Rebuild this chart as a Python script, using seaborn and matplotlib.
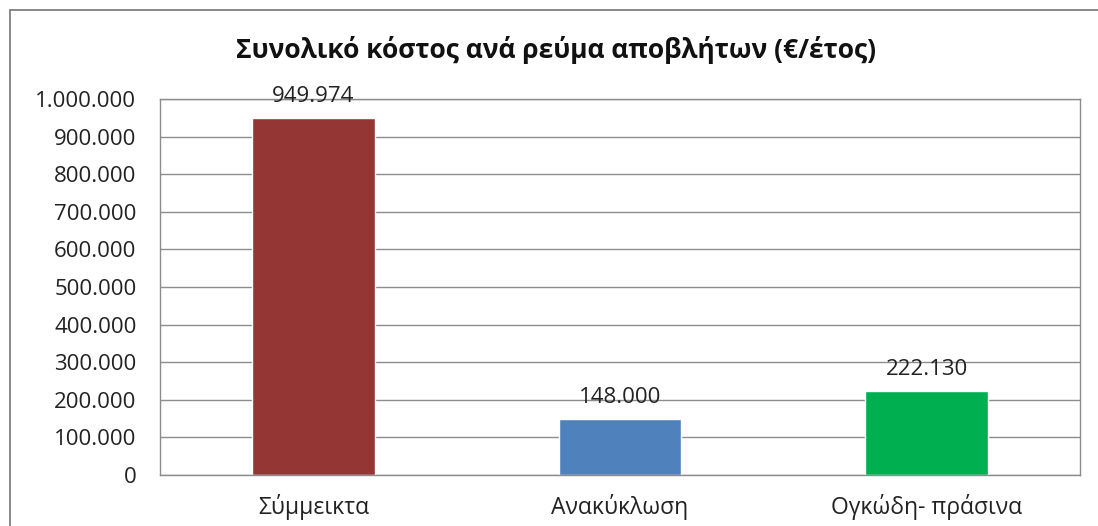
import matplotlib
matplotlib.use("Agg")
import matplotlib.pyplot as plt
import matplotlib.ticker as mticker
from matplotlib.patches import Rectangle
import seaborn as sns
import pandas as pd

categories = ["Σύμμεικτα", "Ανακύκλωση", "Ογκώδη- πράσινα"]
costs = [949974, 148000, 222130]
bar_colors = ["#943634", "#4F81BD", "#00B050"]
title = "Συνολικό κόστος ανά ρεύμα αποβλήτων (€/έτος)"

sns.set_theme(style="white")
plt.rcParams["font.family"] = ["Open Sans", "DejaVu Sans"]

df = pd.DataFrame({"category": categories, "cost": costs})

W, H = 1098, 526
fig = plt.figure(figsize=(W / 100, H / 100), dpi=100)
fig.patch.set_facecolor("white")

# chart-area frame
fig.patches.append(Rectangle((10 / W, -0.2), 1.2, 1.2 - 10 / H,
                             transform=fig.transFigure, fill=False,
                             edgecolor="#808080", linewidth=1.3))

ax = fig.add_axes([160 / W, 1 - 475 / H, (1080 - 160) / W, (475 - 99) / H])
sns.barplot(data=df, x="category", y="cost", hue="category",
            palette=bar_colors, width=0.4, saturation=1, legend=False, ax=ax)

ax.set_xlim(-0.5, 2.5)
ax.set_ylim(0, 1_000_000)
ax.yaxis.set_major_locator(mticker.MultipleLocator(100_000))
ax.yaxis.set_major_formatter(mticker.FuncFormatter(
    lambda v, p: f"{int(v):,}".replace(",", ".")))
ax.grid(axis="y", color="#8C8C8C", linewidth=1.0)
ax.set_axisbelow(True)
for s in ax.spines.values():
    s.set_color("#8C8C8C")
    s.set_linewidth(1.0)
ax.set_xlabel("")
ax.set_ylabel("")

ax.tick_params(axis="y", which="major", direction="out", length=6,
               color="#8C8C8C", labelsize=16, labelcolor="#222222", pad=11)
ax.set_xticks([-0.5, 0.5, 1.5, 2.5], minor=True)
ax.tick_params(axis="x", which="minor", direction="out", length=8,
               color="#8C8C8C")
ax.tick_params(axis="x", which="major", length=0, labelsize=16.5,
               labelcolor="#222222", pad=14)

for i, v in enumerate(costs):
    ax.annotate(f"{v:,}".replace(",", "."), (i, v), xytext=(0, 8),
                textcoords="offset points", ha="center", va="bottom",
                fontsize=16, color="#222222")

fig.text(556 / W, 1 - 50 / H, title, ha="center", va="center",
         fontsize=19, fontweight="bold", color="#111111")

fig.savefig("out.png", dpi=100)
